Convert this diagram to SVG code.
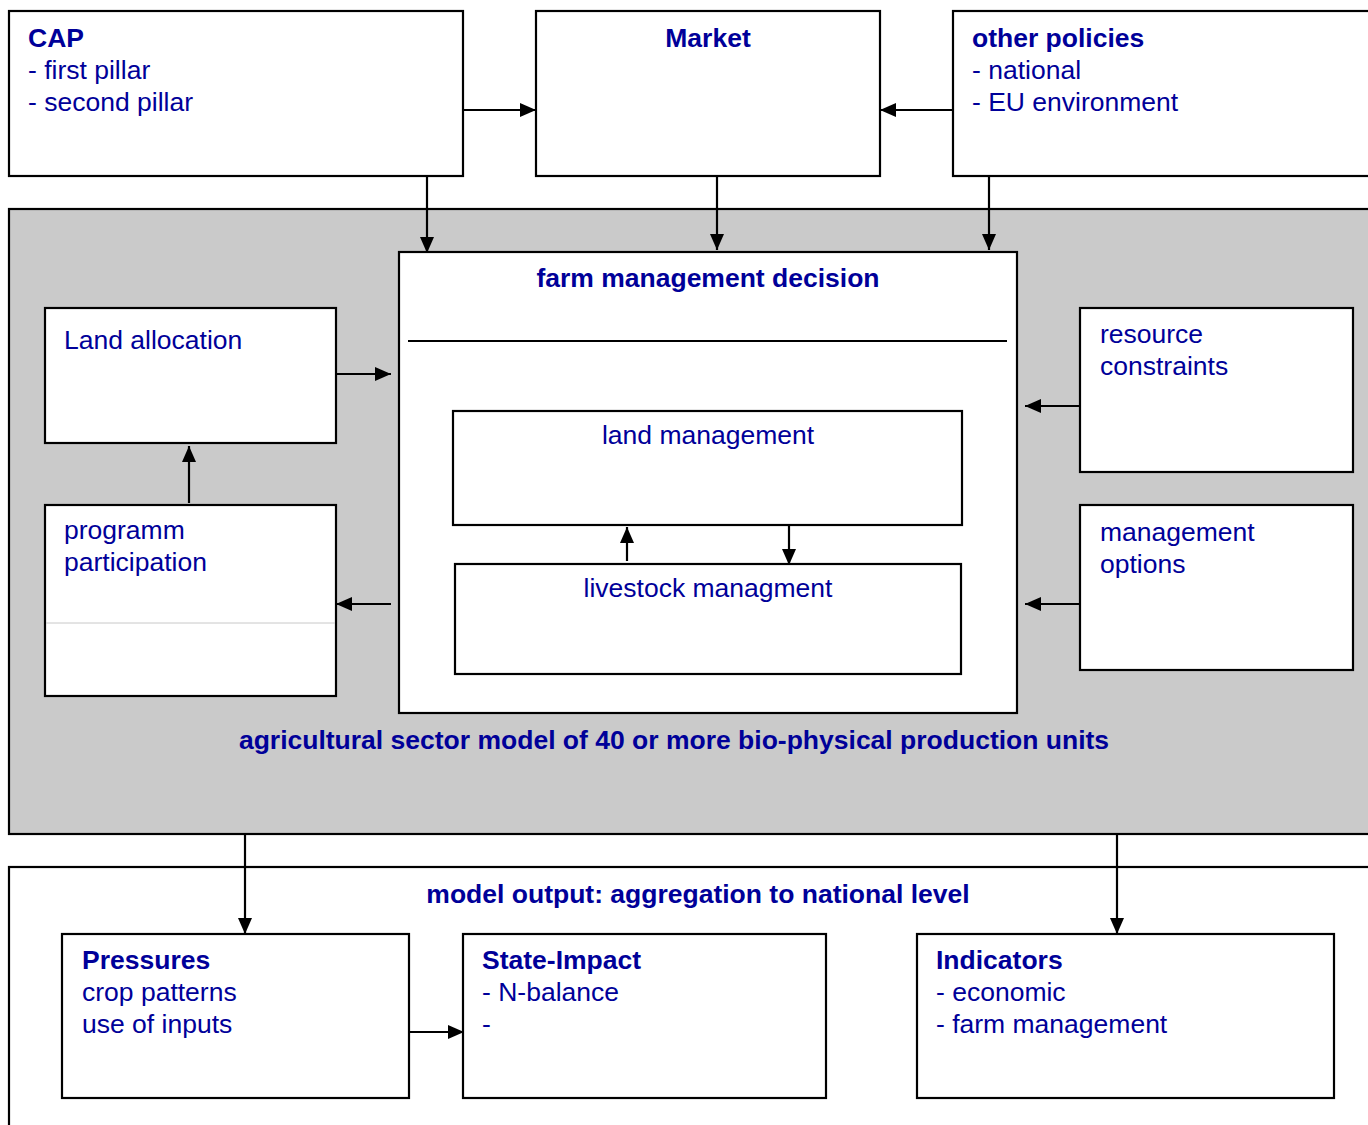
<svg xmlns="http://www.w3.org/2000/svg" width="1368" height="1125" viewBox="0 0 1368 1125">
<defs>
<style>
.box{fill:#fff;stroke:#000;stroke-width:2.2}
.t{font-family:"Liberation Sans",Arial,sans-serif;font-size:26.5px;fill:#000099}
.b{font-weight:bold}
.m{text-anchor:middle}
.c{fill:none;stroke:#000;stroke-width:2.2}
</style>
<marker id="ah" viewBox="0 0 16 14" refX="16" refY="7" markerWidth="16" markerHeight="14" markerUnits="userSpaceOnUse" orient="auto">
<path d="M0,0 L16,7 L0,14 Z" fill="#000"/>
</marker>
</defs>
<rect width="1368" height="1125" fill="#fff"/>

<g id="cap"><rect class="box" x="9" y="11" width="454" height="165"/>
<text class="t b" x="28" y="47">CAP</text><text class="t" x="28" y="79">- first pillar</text><text class="t" x="28" y="111">- second pillar</text></g>
<g id="market"><rect class="box" x="536" y="11" width="344" height="165"/>
<text class="t b m" x="708" y="47">Market</text></g>
<g id="other"><rect class="box" x="953" y="11" width="430" height="165"/>
<text class="t b" x="972" y="47">other policies</text><text class="t" x="972" y="79">- national</text><text class="t" x="972" y="111">- EU environment</text></g>

<g id="sector"><rect x="9" y="209" width="1374" height="625" fill="#cacaca" stroke="#000" stroke-width="2.2"/>
<text class="t b m" x="674" y="749">agricultural sector model of 40 or more bio-physical production units</text></g>

<g id="farm"><rect class="box" x="399" y="252" width="618" height="461"/>
<text class="t b m" x="708" y="287">farm management decision</text>
<line x1="408" y1="341" x2="1007" y2="341" stroke="#000" stroke-width="2.2"/></g>
<g id="land"><rect class="box" x="453" y="411" width="509" height="114"/>
<text class="t m" x="708" y="444">land management</text></g>
<g id="livestock"><rect class="box" x="455" y="564" width="506" height="110"/>
<text class="t m" x="708" y="597">livestock managment</text></g>

<g id="landalloc"><rect class="box" x="45" y="308" width="291" height="135"/>
<text class="t" x="64" y="349">Land allocation</text></g>
<g id="programm"><rect class="box" x="45" y="505" width="291" height="191"/>
<line x1="46" y1="623" x2="335" y2="623" stroke="#c8c8c8" stroke-width="1"/>
<text class="t" x="64" y="539">programm</text><text class="t" x="64" y="571">participation</text></g>
<g id="resource"><rect class="box" x="1080" y="308" width="273" height="164"/>
<text class="t" x="1100" y="343">resource</text><text class="t" x="1100" y="375">constraints</text></g>
<g id="options"><rect class="box" x="1080" y="505" width="273" height="165"/>
<text class="t" x="1100" y="541">management</text><text class="t" x="1100" y="573">options</text></g>

<g id="output"><rect class="box" x="9" y="867" width="1374" height="270"/>
<text class="t b m" x="698" y="903">model output: aggregation to national level</text></g>
<g id="pressures"><rect class="box" x="62" y="934" width="347" height="164"/>
<text class="t b" x="82" y="969">Pressures</text><text class="t" x="82" y="1001">crop patterns</text><text class="t" x="82" y="1033">use of inputs</text></g>
<g id="state"><rect class="box" x="463" y="934" width="363" height="164"/>
<text class="t b" x="482" y="969">State-Impact</text><text class="t" x="482" y="1001">- N-balance</text><text class="t" x="482" y="1033">-</text></g>
<g id="indicators"><rect class="box" x="917" y="934" width="417" height="164"/>
<text class="t b" x="936" y="969">Indicators</text><text class="t" x="936" y="1001">- economic</text><text class="t" x="936" y="1033">- farm management</text></g>

<g id="connectors">
<line class="c" x1="463" y1="110" x2="536" y2="110" marker-end="url(#ah)"/>
<line class="c" x1="953" y1="110" x2="880" y2="110" marker-end="url(#ah)"/>
<line class="c" x1="427" y1="176" x2="427" y2="253" marker-end="url(#ah)"/>
<line class="c" x1="717" y1="176" x2="717" y2="250" marker-end="url(#ah)"/>
<line class="c" x1="989" y1="176" x2="989" y2="250" marker-end="url(#ah)"/>
<line class="c" x1="336" y1="374" x2="391" y2="374" marker-end="url(#ah)"/>
<line class="c" x1="189" y1="503" x2="189" y2="446" marker-end="url(#ah)"/>
<line class="c" x1="391" y1="604" x2="336" y2="604" marker-end="url(#ah)"/>
<line class="c" x1="1080" y1="406" x2="1025" y2="406" marker-end="url(#ah)"/>
<line class="c" x1="1080" y1="604" x2="1025" y2="604" marker-end="url(#ah)"/>
<line class="c" x1="627" y1="561" x2="627" y2="527" marker-end="url(#ah)"/>
<line class="c" x1="789" y1="525" x2="789" y2="565" marker-end="url(#ah)"/>
<line class="c" x1="245" y1="834" x2="245" y2="934" marker-end="url(#ah)"/>
<line class="c" x1="1117" y1="834" x2="1117" y2="934" marker-end="url(#ah)"/>
<line class="c" x1="409" y1="1032" x2="464" y2="1032" marker-end="url(#ah)"/>
</g>
</svg>
